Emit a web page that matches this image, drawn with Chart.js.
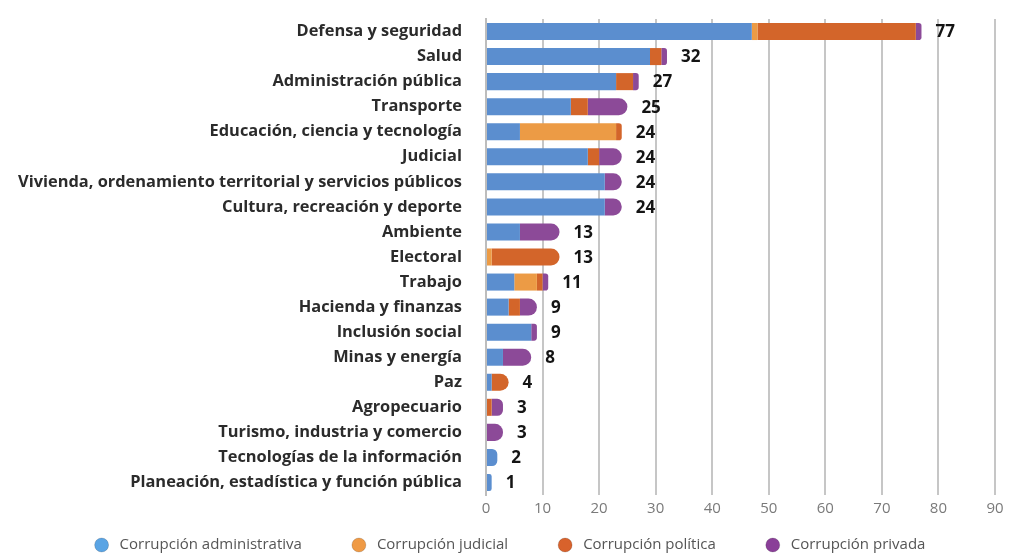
<!DOCTYPE html>
<html>
<head>
<meta charset="utf-8">
<script src="https://cdn.jsdelivr.net/npm/chart.js@4"></script>
<style>
  html, body { margin: 0; padding: 0; background: #ffffff; }
  #wrap { width: 1020px; height: 555px; position: relative; }
</style>
</head>
<body>
<div id="wrap"><canvas id="c" width="1020" height="555"></canvas></div>
<script>
const categories = [
  "Defensa y seguridad",
  "Salud",
  "Administración pública",
  "Transporte",
  "Educación, ciencia y tecnología",
  "Judicial",
  "Vivienda, ordenamiento territorial y servicios públicos",
  "Cultura, recreación y deporte",
  "Ambiente",
  "Electoral",
  "Trabajo",
  "Hacienda y finanzas",
  "Inclusión social",
  "Minas y energía",
  "Paz",
  "Agropecuario",
  "Turismo, industria y comercio",
  "Tecnologías de la información",
  "Planeación, estadística y función pública"
];
const seriesNames = ["Corrupción administrativa", "Corrupción judicial", "Corrupción política", "Corrupción privada"];
const administrativa = [47, 29, 23, 15, 6, 18, 21, 21, 6, 0, 5, 4, 8, 3, 1, 0, 0, 2, 1];
const judicial       = [1, 0, 0, 0, 17, 0, 0, 0, 0, 1, 4, 0, 0, 0, 0, 0, 0, 0, 0];
const politica       = [28, 2, 3, 3, 1, 2, 0, 0, 0, 12, 1, 2, 0, 0, 3, 1, 0, 0, 0];
const privada        = [1, 1, 1, 7, 0, 4, 3, 3, 7, 0, 1, 3, 1, 5, 0, 2, 3, 0, 0];
const totals         = [77, 32, 27, 25, 24, 24, 24, 24, 13, 13, 11, 9, 9, 8, 4, 3, 3, 2, 1];
const xTicks = [0, 10, 20, 30, 40, 50, 60, 70, 80, 90];

const barColors = ["#5b8ecf", "#ec9b45", "#d3652a", "#8c4a98"];
const legendColors = ["#5aa4e4", "#ef9a45", "#d8622c", "#8a3f98"];

const seriesValues = [administrativa, judicial, politica, privada];

const totalsPlugin = {
  id: "totalsLabels",
  afterDatasetsDraw(chart) {
    const ctx = chart.ctx;
    const xs = chart.scales.x, ys = chart.scales.y;
    ctx.save();
    ctx.font = "bold 17px 'Open Sans'";
    ctx.fillStyle = "#141414";
    ctx.textBaseline = "middle";
    ctx.textAlign = "left";
    totals.forEach((t, i) => {
      const x = xs.getPixelForValue(t) + 14;
      const y = ys.getPixelForValue(i);
      ctx.fillText(String(t), x, y + 1);
    });
    ctx.restore();
  }
};

const legendPlugin = {
  id: "customLegend",
  afterDraw(chart) {
    const ctx = chart.ctx;
    ctx.save();
    ctx.font = "15px 'Open Sans'";
    ctx.textBaseline = "middle";
    const r = 7, gapText = 11, gapItem = 50;
    const widths = seriesNames.map(n => 2 * r + gapText + ctx.measureText(n).width);
    const total = widths.reduce((a, b) => a + b, 0) + gapItem * (seriesNames.length - 1);
    let x = (chart.width - total) / 2;
    const y = 545;
    seriesNames.forEach((n, i) => {
      ctx.beginPath();
      ctx.arc(x + r, y, r, 0, Math.PI * 2);
      ctx.fillStyle = legendColors[i];
      ctx.fill();
      ctx.lineWidth = 1;
      ctx.strokeStyle = "rgba(0,0,0,0.15)";
      ctx.stroke();
      ctx.fillStyle = "#555555";
      ctx.fillText(n, x + 2 * r + gapText, y);
      x += widths[i] + gapItem;
    });
    ctx.restore();
  }
};

new Chart(document.getElementById("c"), {
  type: "bar",
  data: {
    labels: categories,
    datasets: seriesValues.map((vals, i) => ({
      label: seriesNames[i],
      data: vals,
      backgroundColor: barColors[i],
      borderWidth: 0,
      borderRadius: 9,
      borderSkipped: "start",
      barPercentage: 0.68,
      categoryPercentage: 1.0
    }))
  },
  options: {
    indexAxis: "y",
    responsive: false,
    animation: false,
    layout: { padding: { top: 19, right: 25, bottom: 32, left: 10 } },
    plugins: {
      legend: { display: false },
      tooltip: { enabled: false }
    },
    scales: {
      x: {
        stacked: true,
        min: 0,
        max: 90,
        afterBuildTicks(scale) { scale.ticks = xTicks.map(v => ({ value: v })); },
        grid: { color: "#c6c6c6", lineWidth: 2, drawTicks: false },
        border: { display: false },
        ticks: { color: "#7a7a7a", font: { family: "'Open Sans'", size: 15 }, padding: 5 }
      },
      y: {
        stacked: true,
        afterFit(scale) { scale.width = 476; scale.paddingTop = 0; scale.paddingBottom = 0; },
        grid: { display: false },
        border: { display: true, color: "#bdbdbd", width: 2 },
        ticks: { color: "#2b2b2b", font: { family: "'Open Sans'", size: 16.4, weight: "bold" }, padding: 16, autoSkip: false }
      }
    }
  },
  plugins: [totalsPlugin, legendPlugin]
});
</script>
</body>
</html>
